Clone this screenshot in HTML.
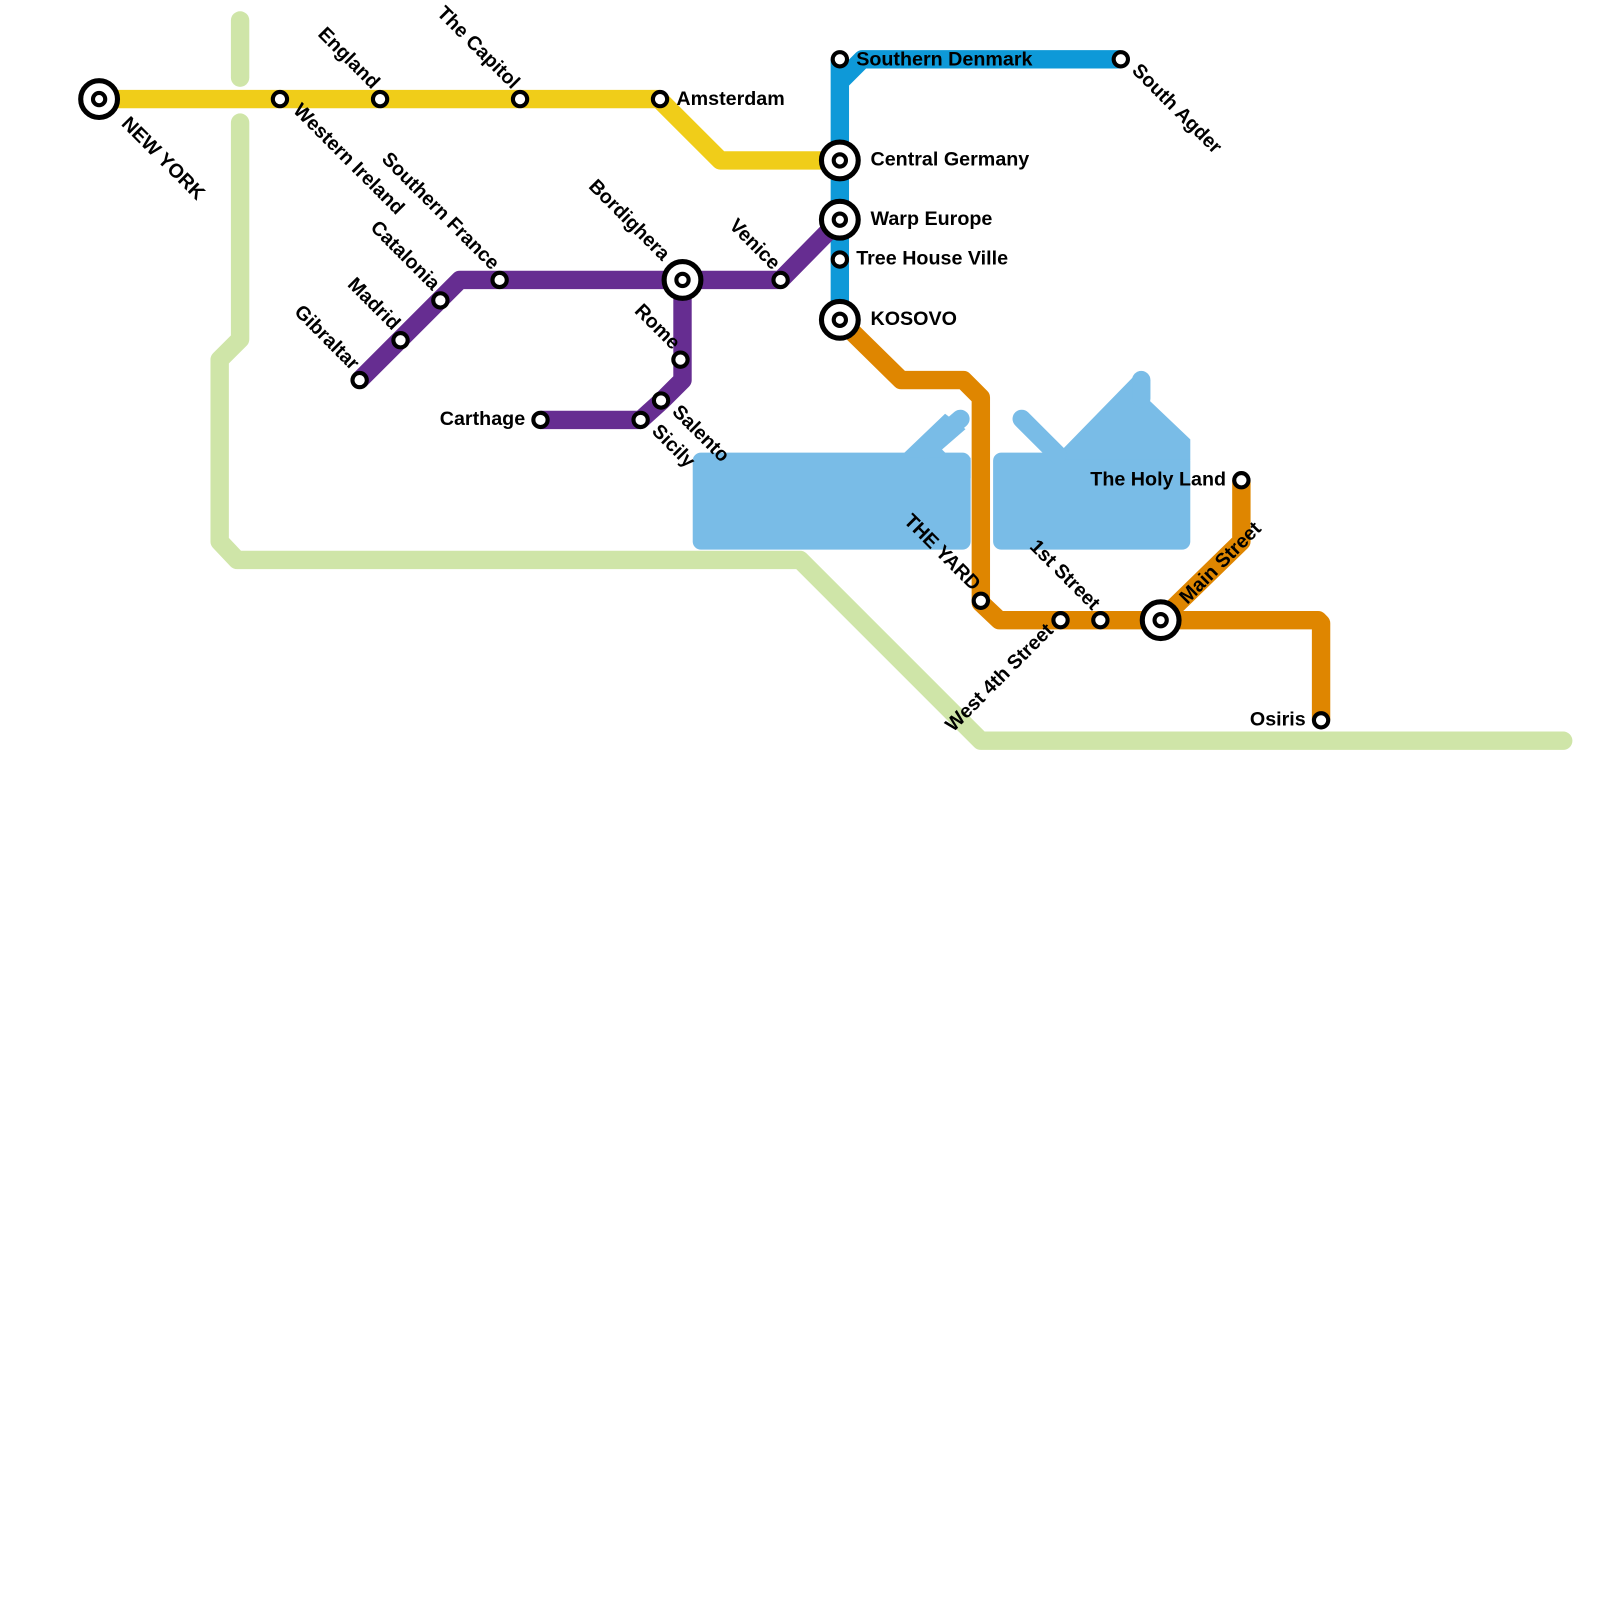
<!DOCTYPE html>
<html><head><meta charset="utf-8"><style>
html,body{margin:0;padding:0;background:#fff;}
svg{display:block}
text{font-family:"Liberation Sans",Arial,sans-serif;font-weight:bold;font-size:19.3px;fill:#000}
</style></head><body>
<svg width="1600" height="1600" viewBox="0 0 1566 1566" xmlns="http://www.w3.org/2000/svg">
<g fill="none" stroke-linejoin="round" stroke-width="18">
<g fill="#79bce7" stroke="none">
<rect x="678" y="443" width="272" height="95" rx="8"/>
<polygon points="880,448 925,405 945,420 922,440 950,468 950,448"/>
<rect x="972" y="443" width="193" height="95" rx="8"/>
<polygon points="1030,450 1110,368 1125,368 1125,392 1165,430 1165,450"/>
</g>
<g stroke="#79bce7" stroke-width="18" stroke-linecap="round">
<line x1="905" y1="440" x2="940" y2="410"/>
<line x1="1000" y1="410" x2="1035" y2="445"/>
<line x1="1117" y1="372" x2="1117" y2="390"/>
</g>
<g stroke="#cfe5a8" stroke-linecap="round">
<path d="M235,20 L235,76"/>
<path d="M235,120 L235,332 L215,352 L215,530 L232,548 L783,548 L960,725 L1530,725"/>
</g>
<path stroke="#f0cd19" d="M97,97 L645,97 L705,157 L822,157"/>
<path stroke="#df8600" d="M822,313 L882,372 L943,372 L960,389 L960,590 L978,607 L1290,607 L1293,610 L1293,705"/>
<path stroke="#df8600" d="M1136,607 L1215,530 L1215,470"/>
<path stroke="#0e99d8" d="M822,313 L822,58 M822,80 L844,58 L1097,58"/>
<path stroke="#662d91" d="M352,372 L450,274 L764,274 L822,215"/>
<path stroke="#662d91" d="M668,274 L668,372 L648,392 L627,411 L529,411"/>
</g>
<g fill="#fff" stroke="#000" stroke-width="4">
<circle cx="274" cy="97" r="7"/><circle cx="372" cy="97" r="7"/><circle cx="509" cy="97" r="7"/><circle cx="646" cy="97" r="7"/>
<circle cx="822" cy="58" r="7"/><circle cx="1097" cy="58" r="7"/><circle cx="822" cy="254" r="7"/>
<circle cx="764" cy="274" r="7"/><circle cx="489" cy="274" r="7"/><circle cx="431" cy="294" r="7"/><circle cx="392" cy="333" r="7"/><circle cx="352" cy="372" r="7"/>
<circle cx="666" cy="352" r="7"/><circle cx="647" cy="392" r="7"/><circle cx="627" cy="411" r="7"/><circle cx="529" cy="411" r="7"/>
<circle cx="960" cy="588" r="7"/><circle cx="1038" cy="607" r="7"/><circle cx="1077" cy="607" r="7"/><circle cx="1215" cy="470" r="7"/><circle cx="1293" cy="705" r="7"/>
</g>
<g fill="#fff" stroke="#000" stroke-width="5">
<circle cx="97" cy="97" r="18"/><circle cx="822" cy="157" r="18"/><circle cx="822" cy="215" r="18"/><circle cx="822" cy="313" r="18"/><circle cx="668" cy="274" r="18"/><circle cx="1136" cy="607" r="18"/>
</g>
<g fill="#fff" stroke="#000" stroke-width="4">
<circle cx="97" cy="97" r="6"/><circle cx="822" cy="157" r="6"/><circle cx="822" cy="215" r="6"/><circle cx="822" cy="313" r="6"/><circle cx="668" cy="274" r="6"/><circle cx="1136" cy="607" r="6"/>
</g>
<text x="662" y="103">Amsterdam</text>
<text x="838" y="64">Southern Denmark</text>
<text x="852" y="162">Central Germany</text>
<text x="852" y="220">Warp Europe</text>
<text x="838" y="259">Tree House Ville</text>
<text x="852" y="318">KOSOVO</text>
<text x="514" y="416" text-anchor="end">Carthage</text>
<text x="1200" y="475" text-anchor="end">The Holy Land</text>
<text x="1278" y="710" text-anchor="end">Osiris</text>
<text transform="translate(118,122) rotate(45)">NEW YORK</text>
<text transform="translate(286,109) rotate(45)">Western Ireland</text>
<text transform="translate(1107,70) rotate(45)">South Agder</text>
<text transform="translate(657,404) rotate(45)">Salento</text>
<text transform="translate(637,423) rotate(45)">Sicily</text>
<g text-anchor="end">
<text transform="translate(364,88) rotate(45)">England</text>
<text transform="translate(501,88) rotate(45)">The Capitol</text>
<text transform="translate(481,265) rotate(45)">Southern France</text>
<text transform="translate(423,285) rotate(45)">Catalonia</text>
<text transform="translate(384,324) rotate(45)">Madrid</text>
<text transform="translate(344,363) rotate(45)">Gibraltar</text>
<text transform="translate(648,256) rotate(45)">Bordighera</text>
<text transform="translate(756,265) rotate(45)">Venice</text>
<text transform="translate(658,343) rotate(45)">Rome</text>
<text transform="translate(952,579) rotate(45)">THE YARD</text>
<text transform="translate(1069,598) rotate(45)">1st Street</text>
<text transform="translate(1032,618) rotate(-45)">West 4th Street</text>
</g>
<text transform="translate(1162,592) rotate(-45)">Main Street</text>
</svg>
</body></html>
